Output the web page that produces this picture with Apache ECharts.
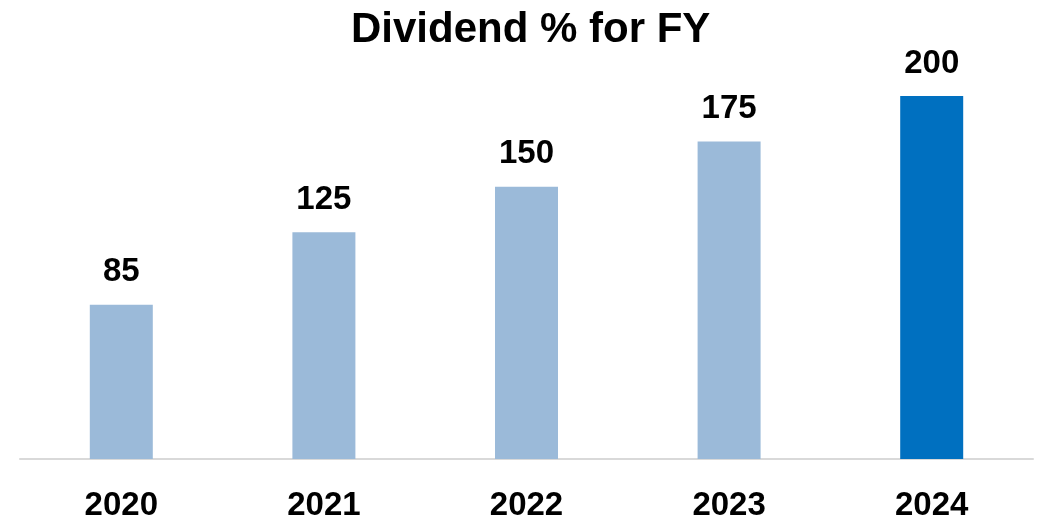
<!DOCTYPE html>
<html>
<head>
<meta charset="utf-8">
<script src="https://cdn.jsdelivr.net/npm/echarts@6/dist/echarts.min.js"></script>
<style>
  html, body { margin: 0; padding: 0; background: #fff; }
  #chart { width: 1043px; height: 522px; }
</style>
</head>
<body>
<div id="chart"></div>
<script>
const YEARS = ["2020", "2021", "2022", "2023", "2024"]
const DIVIDEND = [85, 125, 150, 175, 200]
const BAR_COLORS = ["#9bbad9", "#9bbad9", "#9bbad9", "#9bbad9", "#0070c0"]

const FONT = "'Liberation Sans', Arial, sans-serif"

const chart = echarts.init(document.getElementById("chart"))

chart.setOption({
  animation: false,
  title: {
    text: "Dividend % for FY",
    left: 346,
    top: 4,
    textStyle: { fontFamily: FONT, fontSize: 42, fontWeight: "bold", color: "#000" }
  },
  grid: { left: 20, right: 10, top: 96, bottom: 63 },
  xAxis: {
    type: "category",
    data: YEARS,
    axisLine: { lineStyle: { color: "#d9d9d9", width: 2 } },
    axisTick: { show: false },
    axisLabel: { fontFamily: FONT, fontSize: 33, fontWeight: "bold", color: "#000", margin: 30 }
  },
  yAxis: {
    type: "value",
    min: 0,
    max: 200,
    show: false,
    splitLine: { show: false }
  },
  series: [{
    type: "bar",
    barWidth: 63,
    data: DIVIDEND.map((v, i) => ({ value: v, itemStyle: { color: BAR_COLORS[i] } })),
    label: {
      show: true,
      position: "top",
      distance: 16,
      fontFamily: FONT,
      fontSize: 33,
      fontWeight: "bold",
      color: "#000"
    }
  }]
})
</script>
</body>
</html>
